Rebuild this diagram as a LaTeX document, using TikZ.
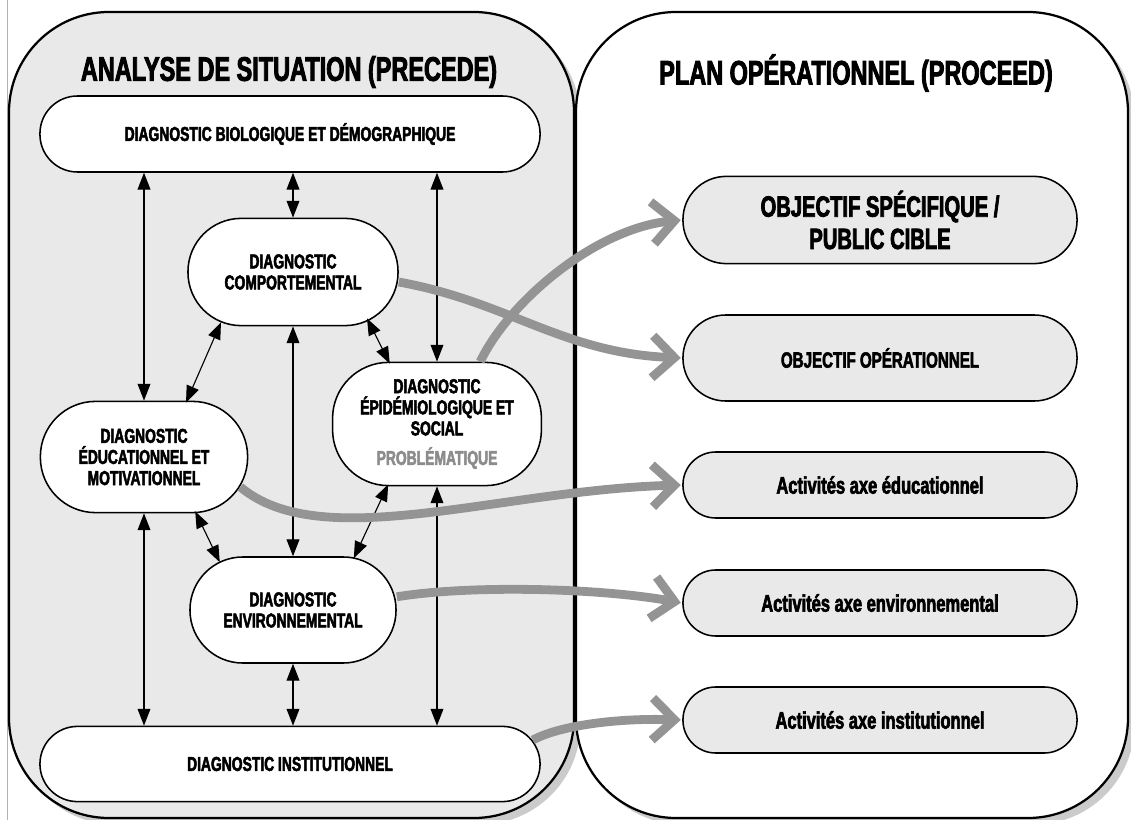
\documentclass[tikz,border=0pt]{standalone}
\usepackage{fontspec}
\setmainfont{Liberation Sans}[FakeStretch=0.69,FakeBold=2.5]
\usetikzlibrary{arrows.meta,shadows}

\definecolor{panelgray}{RGB}{233,233,233}
\definecolor{flowgray}{RGB}{148,148,148}
\definecolor{notegray}{RGB}{140,140,140}

\tikzset{
  panel/.style={draw=black,line width=1.6pt,rounded corners=2.5cm,
    drop shadow={shadow xshift=0.16cm,shadow yshift=-0.16cm,fill=black!45,opacity=0.45}},
  diag/.style={draw=black,line width=1.1pt,fill=white,align=center,inner sep=0pt,
    font=\bfseries\fontsize{14.3}{15}\selectfont},
  plan/.style={diag,fill=panelgray,minimum width=9.85cm},
  both/.style={{Triangle[length=0.42cm,width=0.32cm]}-{Triangle[length=0.42cm,width=0.32cm]},
    line width=0.8pt},
  flow/.style={-{Straight Barb[length=0.55cm,width=1.05cm]},line width=0.22cm,draw=flowgray,
    shorten >=1pt}
}

\begin{document}
\begin{tikzpicture}[x=0.025cm,y=-0.025cm]
\tikzstyle{every node}=[font=\bfseries]
\useasboundingbox (0,0) rectangle (1131,820);

% Draw the thin page edge on the left
\draw[gray!60,line width=0.4pt] (7,0) -- (7,820);

%
% Draw the two panels
%
\draw[panel,fill=panelgray] (9,12) rectangle (574,818);
\draw[panel,fill=white] (576,12) rectangle (1128,818);

\draw (289,72) node[font=\bfseries\fontsize{24.2}{26}\selectfont] (situation) {ANALYSE DE SITUATION (PRECEDE)};
\draw (856,73) node[font=\bfseries\fontsize{24.2}{26}\selectfont] (plantitle) {PLAN OPÉRATIONNEL (PROCEED)};

%
% Draw the diagnostics of the left panel
%
\draw (290,134) node[diag,minimum width=12.5cm,minimum height=1.9cm,rounded corners=0.94cm] (bio)
  {DIAGNOSTIC BIOLOGIQUE ET DÉMOGRAPHIQUE};
\draw (293,272) node[diag,minimum width=5.25cm,minimum height=2.68cm,rounded corners=1.33cm] (comport)
  {DIAGNOSTIC\\COMPORTEMENTAL};
\draw (437,424) node[diag,minimum width=5.22cm,minimum height=3.08cm,rounded corners=1.4cm] (epid)
  {DIAGNOSTIC\\ÉPIDÉMIOLOGIQUE ET\\SOCIAL\\[6pt]\textcolor{notegray}{PROBLÉMATIQUE}};
\draw (144,457) node[diag,minimum width=5.18cm,minimum height=2.78cm,rounded corners=1.38cm] (educ)
  {DIAGNOSTIC\\ÉDUCATIONNEL ET\\MOTIVATIONNEL};
\draw (293,610) node[diag,minimum width=5.15cm,minimum height=2.65cm,rounded corners=1.32cm] (env)
  {DIAGNOSTIC\\ENVIRONNEMENTAL};
\draw (290,764) node[diag,minimum width=12.5cm,minimum height=1.88cm,rounded corners=0.94cm] (inst)
  {DIAGNOSTIC INSTITUTIONNEL};

% Draw the links between the diagnostics
\draw[both] (bio.south -| educ.north) -- (educ.north);
\draw[both] (bio.south -| comport.north) -- (comport.north);
\draw[both] (bio.south -| epid.north) -- (epid.north);
\draw[both] ([xshift=-1.8cm,yshift=0.1cm]comport.south) -- ([xshift=1.05cm,yshift=-0.05cm]educ.north);
\draw[both] ([xshift=1.85cm,yshift=0.2cm]comport.south) -- ([xshift=-1.18cm,yshift=-0.05cm]epid.north);
\draw[both] (comport.south) -- (env.north);
\draw[both] ([xshift=1.28cm,yshift=0.05cm]educ.south) -- ([xshift=-1.83cm,yshift=-0.15cm]env.north);
\draw[both] ([xshift=-1.22cm,yshift=0.05cm]epid.south) -- ([xshift=1.52cm,yshift=-0.05cm]env.north);
\draw[both] (educ.south) -- (educ.south |- inst.north);
\draw[both] (env.south) -- (env.south |- inst.north);
\draw[both] (epid.south) -- (epid.south |- inst.north);

%
% Draw the objectives and activities of the right panel
%
\draw (880,220) node[plan,minimum height=2.18cm,rounded corners=1.08cm,
  font=\bfseries\fontsize{20.8}{23}\selectfont] (spec) {OBJECTIF SPÉCIFIQUE /\\PUBLIC CIBLE};
\draw (880,358) node[plan,minimum height=2.15cm,rounded corners=1.07cm,
  font=\bfseries\fontsize{15.6}{17}\selectfont] (oper) {OBJECTIF OPÉRATIONNEL};
\draw (880,485) node[plan,minimum height=1.65cm,rounded corners=0.82cm,
  font=\bfseries\fontsize{17}{18}\selectfont] (acteduc) {Activités axe éducationnel};
\draw (880,603) node[plan,minimum height=1.65cm,rounded corners=0.82cm,
  font=\bfseries\fontsize{17}{18}\selectfont] (actenv) {Activités axe environnemental};
\draw (880,720) node[plan,minimum height=1.65cm,rounded corners=0.82cm,
  font=\bfseries\fontsize{17}{18}\selectfont] (actinst) {Activités axe institutionnel};

% Draw the large gray arrows from the diagnostics to the plan
\draw[flow] ([yshift=-0.25cm]comport.east) .. controls +(110,20) and +(-120,-5) .. (oper.west);
\draw[flow] ([xshift=1.08cm]epid.north) .. controls +(30,-62) and +(-85,8) .. (spec.west);
\draw[flow] ([xshift=-0.2cm,yshift=-0.75cm]educ.east) .. controls +(81,68) and +(-183,5) .. (acteduc.west);
\draw[flow] ([yshift=0.33cm]env.east) .. controls +(74,-12) and +(-83,-15) .. (actenv.west);
\draw[flow] ([xshift=-0.2cm,yshift=0.6cm]inst.east) .. controls +(28,-15) and +(-63,-2) .. (actinst.west);

\end{tikzpicture}
\end{document}
